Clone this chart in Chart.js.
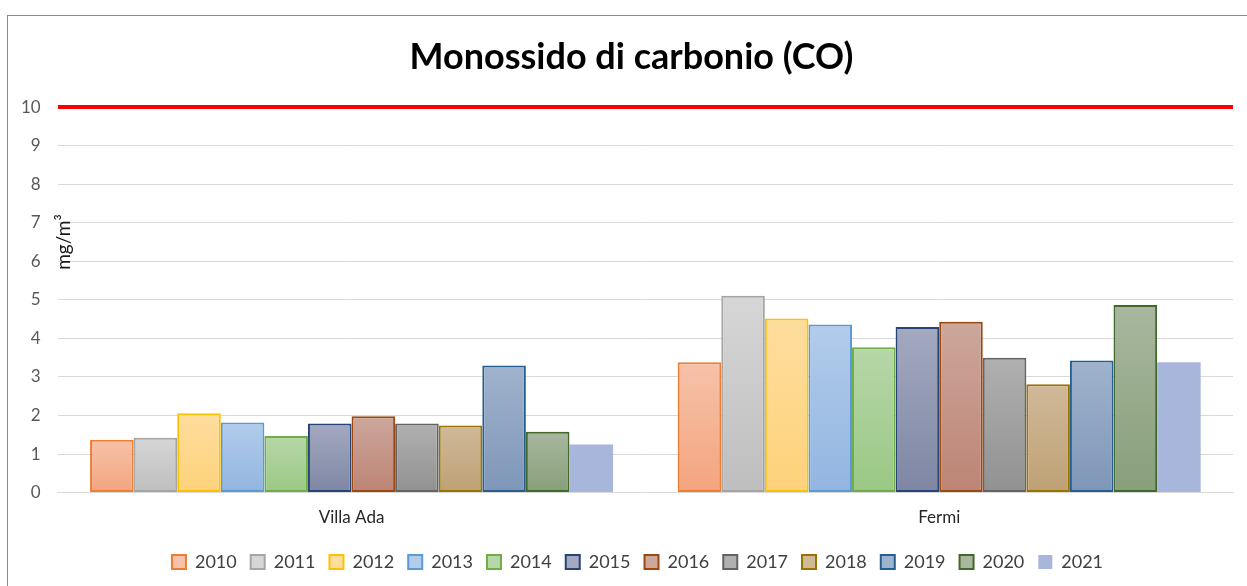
<!DOCTYPE html>
<html lang="it">
<head>
  <meta charset="UTF-8" />
  <title>Monossido di carbonio (CO)</title>
  <script src="https://cdn.jsdelivr.net/npm/chart.js"></script>
  <style>
    body { margin: 0; background: #fff; font-family: 'Lato', sans-serif; }
    #wrap { position: relative; width: 1247px; height: 586px; }
    #frame { position: absolute; left: 7px; top: 15px; right: 0; bottom: 0; border-left: 1px solid #8c8c8c; border-top: 1px solid #8c8c8c; pointer-events: none; }
    canvas { position: absolute; left: 0; top: 0; }
  </style>
</head>
<body>
  <div id="wrap">
    <canvas id="coChart" width="1247" height="586"></canvas>
    <div id="frame"></div>
  </div>

  <script>
    const categories = ['Villa Ada', 'Fermi'];
    const years = ['2010', '2011', '2012', '2013', '2014', '2015', '2016', '2017', '2018', '2019', '2020', '2021'];
    const villaAda = [1.37, 1.42, 2.06, 1.82, 1.47, 1.79, 1.98, 1.79, 1.74, 3.30, 1.58, 1.25];
    const fermi = [3.38, 5.11, 4.52, 4.36, 3.77, 4.30, 4.43, 3.50, 2.81, 3.43, 4.87, 3.38];
    const yTicks = [0, 1, 2, 3, 4, 5, 6, 7, 8, 9, 10];
    const limitValue = 10;

    // top colour, bottom colour, border
    const palette = [
      ['#F6C2A9', '#F4A47E', '#ED7D31'],
      ['#D6D6D6', '#BEBEBE', '#A5A5A5'],
      ['#FEDD9E', '#FED27A', '#FFC000'],
      ['#B2CCEB', '#92B5E0', '#5B9BD5'],
      ['#B6D7A8', '#9AC884', '#70AD47'],
      ['#A3A9BF', '#7E86A4', '#264478'],
      ['#CDA79C', '#BC8474', '#9E480E'],
      ['#B0B0B0', '#919191', '#636363'],
      ['#D0B999', '#BEA174', '#997300'],
      ['#A0B3CD', '#7E96B8', '#255E91'],
      ['#A8B79F', '#889F79', '#43682B'],
      ['#A9B6DB', '#A9B6DB', '#A9B6DB']
    ];

    function barGradient(ctx, i) {
      const chart = ctx.chart;
      const c = palette[i];
      if (!chart.chartArea || ctx.parsed === undefined) return c[1];
      const y = chart.scales.y;
      const top = y.getPixelForValue(ctx.parsed.y);
      const bottom = y.getPixelForValue(0);
      const g = chart.ctx.createLinearGradient(0, top, 0, bottom);
      g.addColorStop(0, c[0]);
      g.addColorStop(1, c[1]);
      return g;
    }

    const datasets = years.map((yr, i) => ({
      label: yr,
      data: [villaAda[i], fermi[i]],
      backgroundColor: ctx => barGradient(ctx, i),
      borderColor: palette[i][2],
      borderWidth: i === 11 ? 0 : 2,
      borderSkipped: false,
      barPercentage: 1,
      categoryPercentage: 0.89
    }));

    const unitLabel = {
      id: 'unitLabel',
      afterDatasetsDraw(chart) {
        const c = chart.ctx;
        c.save();
        c.translate(64, 242);
        c.rotate(-Math.PI / 2);
        c.fillStyle = '#1a1a1a';
        c.font = '19px Lato';
        c.textAlign = 'center';
        c.textBaseline = 'middle';
        c.fillText('mg/m³', 0, 0);
        c.restore();
      }
    };

    // title and legend sit a little right of the plot centre in the original
    const nudge = {
      id: 'nudge',
      afterLayout(chart) {
        chart.titleBlock.left += 13;
        chart.titleBlock.right += 13;
        chart.legend.left += 19;
        chart.legend.right += 19;
      }
    };

    new Chart(document.getElementById('coChart'), {
      type: 'bar',
      data: { labels: categories, datasets: datasets },
      plugins: [unitLabel, nudge],
      options: {
        responsive: false,
        animation: false,
        layout: { padding: { left: 4, right: 14, top: 0, bottom: 5 } },
        scales: {
          x: {
            afterFit(axis) { axis.height += 4; },
            grid: { display: false },
            border: { color: '#D9D9D9', width: 1 },
            ticks: { color: '#262626', font: { family: 'Lato', size: 17 }, padding: 7 }
          },
          y: {
            min: 0,
            max: 10,
            afterBuildTicks(axis) { axis.ticks = yTicks.map(v => ({ value: v })); },
            border: { display: false },
            grid: {
              drawTicks: false,
              color: ctx => ctx.tick && ctx.tick.value === limitValue ? '#FF0000' : '#D9D9D9',
              lineWidth: ctx => ctx.tick && ctx.tick.value === limitValue ? 4 : 1
            },
            ticks: { color: '#595959', font: { family: 'Lato', size: 17 }, padding: 17 }
          }
        },
        plugins: {
          title: {
            display: true,
            text: 'Monossido di carbonio (CO)',
            color: '#000',
            font: { family: 'Lato', size: 36, weight: 'bold' },
            padding: { top: 36, bottom: 28 }
          },
          legend: {
            position: 'bottom',
            labels: {
              color: '#404040',
              font: { family: 'Lato', size: 18 },
              boxWidth: 14,
              boxHeight: 14,
              padding: 14,
              generateLabels(chart) {
                return chart.data.datasets.map((ds, i) => ({
                  text: ds.label,
                  fillStyle: palette[i][0],
                  strokeStyle: palette[i][2],
                  lineWidth: i === 11 ? 0 : 2,
                  fontColor: '#404040',
                  datasetIndex: i
                }));
              }
            }
          },
          tooltip: { enabled: false }
        }
      }
    });
  </script>
</body>
</html>
